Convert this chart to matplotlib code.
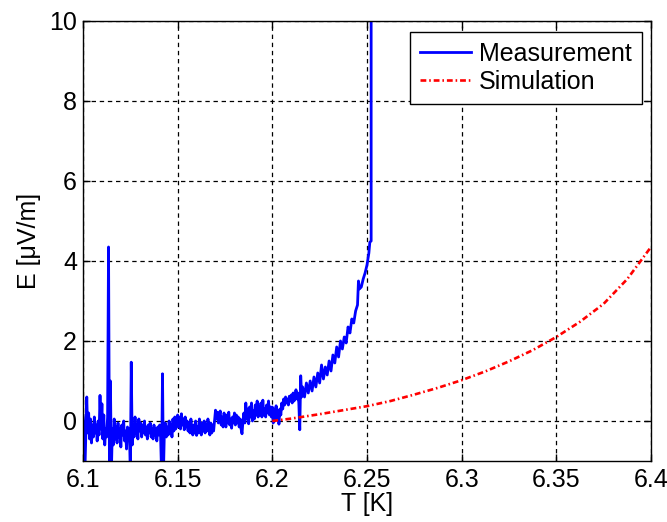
import matplotlib
matplotlib.use("Agg")
import matplotlib.pyplot as plt

plt.rcParams['font.family'] = ['Liberation Sans', 'DejaVu Sans']

# Measured field E [uV/m] versus temperature T [K]
T_meas = [
    6.1000, 6.1005, 6.1010, 6.1015, 6.1020, 6.1025, 6.1030, 6.1035, 6.1040, 6.1045,
    6.1050, 6.1055, 6.1060, 6.1065, 6.1070, 6.1075, 6.1080, 6.1085, 6.1090, 6.1095,
    6.1100, 6.1105, 6.1110, 6.1115, 6.1120, 6.1125, 6.1130, 6.1135, 6.1140, 6.1145,
    6.1150, 6.1155, 6.1160, 6.1165, 6.1170, 6.1175, 6.1180, 6.1185, 6.1190, 6.1195,
    6.1200, 6.1205, 6.1210, 6.1215, 6.1220, 6.1225, 6.1230, 6.1235, 6.1240, 6.1245,
    6.1250, 6.1255, 6.1260, 6.1265, 6.1270, 6.1275, 6.1280, 6.1285, 6.1290, 6.1295,
    6.1300, 6.1305, 6.1310, 6.1315, 6.1320, 6.1325, 6.1330, 6.1335, 6.1340, 6.1345,
    6.1350, 6.1355, 6.1360, 6.1365, 6.1370, 6.1375, 6.1380, 6.1385, 6.1390, 6.1395,
    6.1400, 6.1405, 6.1410, 6.1415, 6.1420, 6.1425, 6.1430, 6.1435, 6.1440, 6.1445,
    6.1450, 6.1455, 6.1460, 6.1465, 6.1470, 6.1475, 6.1480, 6.1485, 6.1490, 6.1495,
    6.1500, 6.1505, 6.1510, 6.1515, 6.1520, 6.1525, 6.1530, 6.1535, 6.1540, 6.1545,
    6.1550, 6.1555, 6.1560, 6.1565, 6.1570, 6.1575, 6.1580, 6.1585, 6.1590, 6.1595,
    6.1600, 6.1605, 6.1610, 6.1615, 6.1620, 6.1625, 6.1630, 6.1635, 6.1640, 6.1645,
    6.1650, 6.1655, 6.1660, 6.1665, 6.1670, 6.1675, 6.1680, 6.1685, 6.1690, 6.1695,
    6.1700, 6.1705, 6.1710, 6.1715, 6.1720, 6.1725, 6.1730, 6.1735, 6.1740, 6.1745,
    6.1750, 6.1755, 6.1760, 6.1765, 6.1770, 6.1775, 6.1780, 6.1785, 6.1790, 6.1795,
    6.1800, 6.1805, 6.1810, 6.1815, 6.1820, 6.1825, 6.1830, 6.1835, 6.1840, 6.1845,
    6.1850, 6.1855, 6.1860, 6.1865, 6.1870, 6.1875, 6.1880, 6.1885, 6.1890, 6.1895,
    6.1900, 6.1905, 6.1910, 6.1915, 6.1920, 6.1925, 6.1930, 6.1935, 6.1940, 6.1945,
    6.1950, 6.1955, 6.1960, 6.1965, 6.1970, 6.1975, 6.1980, 6.1985, 6.1990, 6.1995,
    6.2000, 6.2005, 6.2010, 6.2015, 6.2020, 6.2025, 6.2030, 6.2035, 6.2040, 6.2045,
    6.2050, 6.2055, 6.2060, 6.2065, 6.2070, 6.2075, 6.2080, 6.2085, 6.2090, 6.2095,
    6.2100, 6.2105, 6.2110, 6.2115, 6.2120, 6.2125, 6.2130, 6.2135, 6.2140, 6.2145,
    6.2150, 6.2155, 6.2160, 6.2170, 6.2180, 6.2190, 6.2200, 6.2210, 6.2220, 6.2230,
    6.2240, 6.2250, 6.2260, 6.2270, 6.2280, 6.2290, 6.2300, 6.2310, 6.2320, 6.2330,
    6.2340, 6.2350, 6.2360, 6.2370, 6.2380, 6.2390, 6.2400, 6.2410, 6.2420, 6.2430,
    6.2440, 6.2450, 6.2455, 6.2460, 6.2470, 6.2480, 6.2490, 6.2500, 6.2510, 6.2515,
    6.2522, 6.2522,
]
E_meas = [
    0.14, -0.20, -1.30, -0.40, 0.60, -0.30, 0.20, -0.45, 0.05, -0.55,
    -0.10, -0.40, 0.10, -0.30, -0.10, -0.50, 0.00, -0.35, 0.64, -0.20,
    0.43, -0.45, 0.15, -0.60, -0.20, -0.40, 0.10, 4.35, -1.30, 1.00,
    -1.30, -0.20, -0.60, 0.05, -0.45, -0.15, -0.55, -0.05, -0.40, -0.20,
    -0.65, -0.10, -0.35, 0.00, -0.50, -0.25, -0.70, -0.15, -0.45, -0.20,
    -1.30, 1.47, -0.60, -0.15, -0.40, 0.10, -0.30, -0.10, -0.45, 0.05,
    -0.25, -0.05, -0.40, -0.10, -0.30, 0.00, -0.35, -0.15, -0.45, -0.10,
    -0.30, -0.05, -0.40, -0.20, -0.45, -0.10, -0.35, -0.20, -0.50, -0.15,
    -0.35, -0.10, -0.40, -1.30, 1.18, -1.30, -0.25, -0.05, -0.40, -0.15,
    -0.35, 0.00, -0.30, -0.10, -0.40, 0.05, -0.25, 0.10, -0.20, 0.00,
    0.15, -0.15, 0.10, -0.20, 0.18, -0.10, 0.05, -0.22, 0.10, -0.15,
    0.00, -0.25, -0.05, -0.30, 0.05, -0.20, -0.35, -0.10, -0.30, 0.00,
    -0.36, -0.15, -0.30, 0.05, -0.20, -0.35, -0.05, -0.25, 0.00, -0.30,
    -0.10, -0.25, 0.05, -0.20, -0.35, -0.05, -0.30, -0.10, -0.25, 0.00,
    0.27, 0.05, 0.22, -0.05, 0.15, 0.25, -0.10, 0.10, -0.15, 0.20,
    0.00, -0.15, 0.15, -0.05, 0.22, -0.10, 0.05, -0.18, 0.10, -0.05,
    0.20, -0.10, 0.15, -0.05, 0.10, -0.15, 0.05, -0.20, -0.32, 0.00,
    0.20, -0.05, 0.45, 0.05, 0.30, -0.07, 0.35, 0.10, 0.45, 0.00,
    0.25, 0.05, 0.40, 0.15, 0.50, 0.10, 0.35, 0.20, 0.45, 0.10,
    0.52, 0.15, 0.30, 0.10, 0.40, 0.20, 0.50, 0.15, 0.35, 0.10,
    0.35, -0.05, 0.30, 0.00, 0.38, 0.10, 0.25, -0.08, 0.30, 0.15,
    0.45, 0.30, 0.55, 0.40, 0.60, 0.45, 0.55, 0.40, 0.62, 0.50,
    0.65, 0.45, 0.70, 0.50, 0.60, 0.78, 0.55, 0.70, 0.45, -0.22,
    1.13, 0.60, 0.85, 0.60, 0.95, 0.70, 1.00, 0.75, 1.10, 0.85,
    1.20, 0.95, 1.40, 1.05, 1.35, 1.15, 1.50, 1.25, 1.65, 1.45,
    1.85, 1.60, 2.00, 1.80, 2.10, 1.95, 2.35, 2.20, 2.55, 2.45,
    2.75, 2.90, 3.50, 3.30, 3.35, 3.55, 3.70, 3.90, 4.20, 4.47,
    4.50, 12.0,
]

# Simulated field
T_sim = [6.200, 6.210, 6.225, 6.2375, 6.250, 6.2625, 6.275, 6.2875, 6.300,
         6.3125, 6.325, 6.3375, 6.350, 6.3625, 6.375, 6.3875, 6.400]
E_sim = [0.00, 0.06, 0.17, 0.27, 0.37, 0.50, 0.66, 0.83, 1.02,
         1.24, 1.49, 1.77, 2.10, 2.48, 2.93, 3.55, 4.35]

x_ticks = [6.1, 6.15, 6.2, 6.25, 6.3, 6.35, 6.4]
x_ticklabels = ['6.1', '6.15', '6.2', '6.25', '6.3', '6.35', '6.4']
y_ticks = [0, 2, 4, 6, 8, 10]

FS = 18

fig = plt.figure(figsize=(6.67, 5.22), dpi=100)
ax = fig.add_axes([0.1244, 0.1169, 0.8516, 0.8429])

ax.plot(T_meas, E_meas, color='#0000ff', linewidth=2.0, label='Measurement')
ax.plot(T_sim, E_sim, color='#ff0000', linewidth=1.9,
        linestyle=(0, (2.2, 1.1, 0.6, 1.1)), label='Simulation')

ax.set_xlim(6.1, 6.4)
ax.set_ylim(-1, 10)
ax.set_xticks(x_ticks)
ax.set_xticklabels(x_ticklabels)
ax.set_yticks(y_ticks)

ax.grid(True, color='black', linestyle=(0, (3.5, 3)), linewidth=0.9)
ax.tick_params(direction='in', top=True, right=True, length=5, width=1,
               labelsize=FS, colors='black')
ax.tick_params(axis='x', pad=5.0)
ax.tick_params(axis='y', pad=4.3)
for sp in ax.spines.values():
    sp.set_linewidth(1.0)
    sp.set_color('black')

ax.set_xlabel('T [K]', fontsize=FS, labelpad=0)
ax.set_ylabel('E [μV/m]', fontsize=FS, labelpad=6)

leg = ax.legend(loc='upper right', bbox_to_anchor=(0.9842, 0.9757),
                fontsize=FS, fancybox=False, framealpha=1,
                edgecolor='black', borderaxespad=0.0, handlelength=2.05,
                handletextpad=0.32, borderpad=0.4, labelspacing=0.18)
leg.get_frame().set_linewidth(1.0)

fig.savefig('out.png', dpi=100)
